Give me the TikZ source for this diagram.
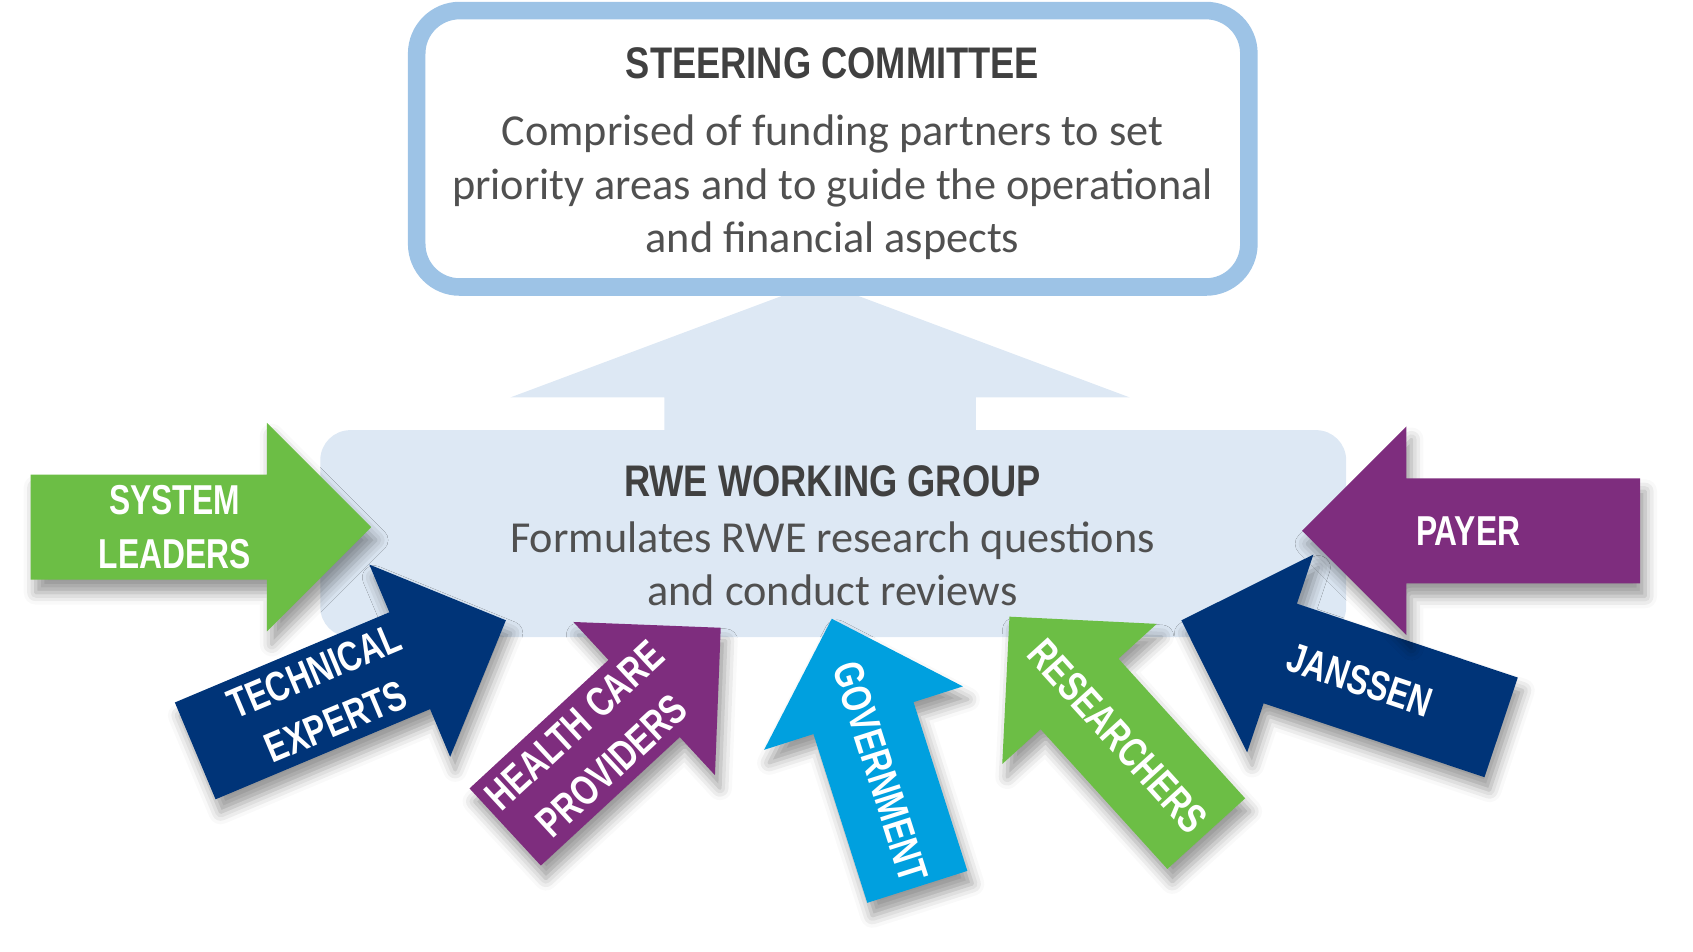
\documentclass[tikz,border=0pt]{standalone}
\usepackage{fontspec}
\setmainfont{Carlito}
\newfontfamily\headfont[FakeStretch=0.82]{Liberation Sans}
\newfontfamily\tagfont[FakeStretch=0.76]{Liberation Sans}
\usepackage{tikz}
\usetikzlibrary{positioning,calc,shapes.arrows,shadows.blur}

\definecolor{paleblue}{HTML}{DDE8F4}
\definecolor{rimblue}{HTML}{9DC3E6}
\definecolor{headgray}{HTML}{404040}
\definecolor{bodygray}{HTML}{505050}
\definecolor{leafgreen}{HTML}{6CBE45}
\definecolor{navyblue}{HTML}{003478}
\definecolor{plum}{HTML}{7E2D7E}
\definecolor{skyblue}{HTML}{00A0DF}

\tikzset{
  heading/.style={font=\headfont\bfseries\fontsize{12.6}{15}\selectfont, text=headgray, inner sep=0pt},
  blurb/.style={font=\fontsize{12.6}{15.2}\selectfont, text=bodygray, align=center, inner sep=0pt},
  partner/.style={single arrow, fill=#1, inner xsep=0pt, inner ysep=0.5185cm,
    single arrow head extend=0.518cm, single arrow tip angle=90, anchor=tail,
    blur shadow={shadow xshift=0.05cm, shadow yshift=-0.13cm, shadow blur radius=0.12cm, shadow opacity=40}},
  tag/.style={font=\tagfont\bfseries\fontsize{11.9}{15.6}\selectfont, text=white, align=center, inner sep=0pt},
}

\begin{document}
\begin{tikzpicture}[x=0.010797cm, y=-0.010797cm]
    \useasboundingbox (0,0) rectangle (1568,881);

    % big arrow from the working group up to the committee
    \node [single arrow, fill=paleblue, inner xsep=0pt, inner ysep=1.551cm, rotate=90, anchor=tail,
      single arrow head extend=1.541cm,
      single arrow tip angle=139, minimum height=1.820cm] (lift) at (759.5,430) {};
    \node [fill=paleblue, rounded corners=0.3cm, minimum width=10.264cm, minimum height=2.070cm] (wg) at (771.7,494.2) {};
    \node [draw=rimblue, line width=5pt, fill=white, rounded corners=0.43cm,
      minimum width=8.326cm, minimum height=2.766cm] (steer) at (771.3,137.8) {};

    \node [heading, anchor=base] (steer-title) at (771,72.5) {STEERING COMMITTEE};
    \node [blurb, anchor=base] (steer-text) at (771,234) {Comprised of funding partners to set\\priority areas and to guide the operational\\and financial aspects};
    \node [heading, anchor=base] (wg-title) at (771,460) {RWE WORKING GROUP};
    \node [blurb, anchor=base] (wg-text) at (771,561) {Formulates RWE research questions\\and conduct reviews};

    % partners pushing into the working group
    \node [partner=leafgreen, minimum height=3.406cm] (system) at (27.8,488.2) {};
    \node [tag] (system-tag) at ($(system.tail)!0.423!(system.tip)$) {SYSTEM\\LEADERS};
    \node [partner=navyblue, minimum height=3.372cm, rotate=22.8] (technical) at (180.2,695.7) {};
    \node [tag, rotate=22.8] (technical-tag) at ($(technical.tail)!0.418!(technical.tip)$) {TECHNICAL\\EXPERTS};
    \node [partner=plum, minimum height=2.937cm, rotate=42.75] (providers) at (467.4,766.4) {};
    \node [tag, rotate=42.75] (providers-tag) at ($(providers.tail)!0.409!(providers.tip)$) {HEALTH CARE\\PROVIDERS};
    \node [partner=skyblue, minimum height=2.816cm, rotate=107.7] (government) at (849.8,822) {};
    \node [tag, rotate=-72.3] (government-tag) at ($(government.tail)!0.429!(government.tip)$) {GOVERNMENT};
    \node [partner=leafgreen, minimum height=2.931cm, rotate=132.2] (researchers) at (1117.6,772.6) {};
    \node [tag, rotate=-47.8] (researchers-tag) at ($(researchers.tail)!0.449!(researchers.tip)$) {RESEARCHERS};
    \node [partner=navyblue, minimum height=3.374cm, rotate=161.5] (janssen) at (1390.9,673.9) {};
    \node [tag, rotate=-18.5] (janssen-tag) at ($(janssen.tail)!0.442!(janssen.tip)$) {JANSSEN};
    \node [partner=plum, minimum height=3.381cm, rotate=180] (payer) at (1519.6,491.6) {};
    \node [tag] (payer-tag) at ($(payer.tail)!0.508!(payer.tip)$) {PAYER};
\end{tikzpicture}
\end{document}
